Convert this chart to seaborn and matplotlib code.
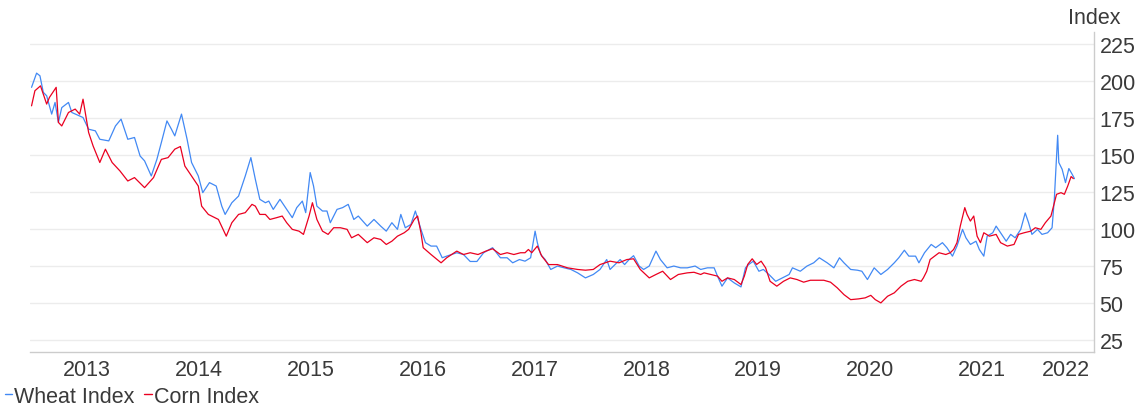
import matplotlib
matplotlib.use("Agg")
import matplotlib.pyplot as plt
from matplotlib.lines import Line2D
import seaborn as sns
import numpy as np
import pandas as pd

# years since 2013-01-01
wheat_t = [
    0.00, 0.045, 0.075, 0.105, 0.135, 0.18, 0.21, 0.24, 0.27, 0.33, 0.36, 0.46, 0.51, 0.57,
    0.61, 0.69, 0.75, 0.80, 0.86, 0.92, 0.97, 1.01, 1.07, 1.12, 1.16, 1.21, 1.25, 1.28,
    1.34, 1.39, 1.43, 1.49, 1.53, 1.59, 1.65, 1.70, 1.73, 1.79, 1.85, 1.91, 1.96, 2.00,
    2.04, 2.09, 2.12, 2.16, 2.22, 2.28, 2.33, 2.37, 2.42, 2.45, 2.49, 2.52, 2.55, 2.60,
    2.64, 2.67, 2.73, 2.78, 2.83, 2.88, 2.92, 3.00, 3.06, 3.12, 3.17, 3.22, 3.27, 3.30,
    3.34, 3.39, 3.43, 3.48, 3.52, 3.57, 3.62, 3.67, 3.71, 3.80, 3.86, 3.92, 3.98, 4.04,
    4.12, 4.19, 4.25, 4.30, 4.36, 4.41, 4.46, 4.50, 4.52, 4.55, 4.59, 4.64, 4.70, 4.76,
    4.82, 4.88, 4.95, 5.02, 5.08, 5.14, 5.17, 5.23, 5.26, 5.30, 5.34, 5.38, 5.43, 5.47,
    5.52, 5.58, 5.62, 5.68, 5.74, 5.80, 5.86, 5.93, 5.98, 6.04, 6.10, 6.13, 6.17, 6.22,
    6.28, 6.34, 6.38, 6.41, 6.45, 6.50, 6.54, 6.59, 6.65, 6.71, 6.77, 6.80, 6.87, 6.93,
    6.99, 7.04, 7.11, 7.17, 7.22, 7.26, 7.32, 7.38, 7.42, 7.47, 7.53, 7.59, 7.65, 7.71,
    7.75, 7.80, 7.84, 7.90, 7.93, 7.98, 8.04, 8.08, 8.14, 8.18, 8.23, 8.27, 8.32, 8.35,
    8.39, 8.44, 8.47, 8.51, 8.54, 8.59, 8.62, 8.66, 8.71, 8.75, 8.79, 8.84, 8.88, 8.91,
    8.94, 8.99, 9.03, 9.08, 9.12, 9.14, 9.17, 9.18, 9.21, 9.24, 9.27, 9.30, 9.32,
]
wheat_idx = [
    195.7, 205.3, 203.5, 192.3, 190.0, 177.6, 185.5, 172.0, 182.0, 185.5, 178.7, 175.3, 167.4, 166.3,
    160.6, 159.5, 169.6, 174.2, 160.6, 161.8, 149.3, 146.0, 135.8, 147.0, 158.4, 173.0, 167.4, 162.9,
    177.6, 160.6, 144.9, 135.8, 124.5, 131.3, 129.0, 115.4, 109.8, 117.7, 122.2, 135.8, 148.2, 133.5,
    120.0, 117.7, 118.8, 113.2, 120.0, 113.2, 107.6, 114.4, 118.8, 111.0, 138.1, 129.0, 115.4, 112.1,
    112.1, 104.2, 113.2, 114.4, 116.6, 106.4, 108.7, 101.9, 106.4, 101.9, 98.5, 104.2, 99.7, 109.8,
    100.8, 103.0, 112.1, 99.7, 90.7, 88.4, 88.4, 80.5, 81.6, 83.9, 82.7, 78.0, 78.0, 83.9,
    87.3, 80.5, 80.5, 77.1, 79.3, 78.2, 80.5, 98.5, 90.7, 82.7, 79.3, 72.6, 74.9, 73.7,
    72.6, 70.3, 66.9, 69.2, 72.6, 79.3, 72.6, 77.1, 79.3, 75.9, 79.3, 81.9, 74.9, 72.6,
    74.9, 85.0, 79.3, 73.7, 74.9, 73.7, 73.7, 74.9, 72.6, 73.7, 73.7, 68.1, 61.3, 66.9,
    63.5, 60.8, 73.7, 76.0, 78.2, 71.4, 72.6, 69.2, 64.6, 66.9, 69.2, 73.7, 71.4, 74.9,
    77.1, 80.5, 77.1, 73.7, 80.5, 77.1, 72.6, 72.1, 71.4, 65.8, 73.7, 69.2, 72.6, 77.1,
    80.5, 85.6, 81.6, 81.6, 77.1, 83.9, 89.5, 87.3, 90.7, 87.3, 81.6, 88.4, 99.7, 94.0,
    89.5, 91.7, 86.1, 81.6, 95.1, 97.4, 101.9, 97.4, 91.7, 96.3, 94.0, 99.7, 110.8, 104.2,
    96.3, 99.7, 96.3, 97.4, 100.8, 120.0, 163.3, 144.9, 140.3, 131.3, 140.8, 136.9, 134.0,
]

corn_t = [
    0.00, 0.03, 0.08, 0.105, 0.135, 0.16, 0.22, 0.24, 0.27, 0.33, 0.39, 0.43, 0.46, 0.51,
    0.55, 0.61, 0.66, 0.72, 0.79, 0.86, 0.92, 1.01, 1.09, 1.16, 1.22, 1.28, 1.33, 1.37,
    1.43, 1.49, 1.52, 1.58, 1.67, 1.74, 1.79, 1.85, 1.91, 1.97, 2.00, 2.04, 2.09, 2.13,
    2.19, 2.24, 2.28, 2.33, 2.39, 2.43, 2.48, 2.51, 2.55, 2.60, 2.65, 2.70, 2.76, 2.82,
    2.86, 2.92, 3.00, 3.06, 3.12, 3.17, 3.22, 3.27, 3.33, 3.37, 3.42, 3.45, 3.48, 3.50,
    3.57, 3.66, 3.71, 3.80, 3.86, 3.92, 3.99, 4.06, 4.12, 4.19, 4.25, 4.31, 4.37, 4.41,
    4.44, 4.47, 4.52, 4.56, 4.62, 4.70, 4.79, 4.88, 4.95, 5.02, 5.08, 5.17, 5.25, 5.32,
    5.38, 5.44, 5.52, 5.58, 5.64, 5.71, 5.78, 5.86, 5.92, 5.98, 6.01, 6.07, 6.13, 6.17,
    6.22, 6.28, 6.34, 6.37, 6.40, 6.44, 6.48, 6.52, 6.56, 6.60, 6.66, 6.72, 6.78, 6.84,
    6.90, 6.96, 7.02, 7.08, 7.14, 7.20, 7.26, 7.32, 7.39, 7.45, 7.50, 7.54, 7.59, 7.65,
    7.71, 7.77, 7.83, 7.89, 7.95, 7.97, 8.00, 8.03, 8.07, 8.11, 8.17, 8.21, 8.24, 8.27,
    8.30, 8.34, 8.36, 8.39, 8.42, 8.45, 8.48, 8.51, 8.56, 8.62, 8.66, 8.72, 8.78, 8.82,
    8.87, 8.93, 8.97, 9.02, 9.06, 9.11, 9.14, 9.16, 9.20, 9.23, 9.26, 9.29, 9.31,
]
corn_idx = [
    183.2, 193.4, 196.7, 191.1, 184.4, 188.9, 195.7, 172.0, 169.6, 178.7, 181.0, 177.6, 187.7, 165.2,
    156.1, 144.9, 153.9, 144.9, 139.2, 132.4, 134.7, 127.9, 134.7, 147.0, 148.2, 153.9, 155.7, 142.5,
    135.8, 129.0, 115.4, 109.8, 106.4, 95.1, 104.2, 109.8, 111.0, 116.6, 115.4, 109.8, 109.8, 106.4,
    107.6, 108.7, 104.2, 99.7, 98.5, 96.3, 108.7, 117.7, 106.4, 98.5, 96.3, 100.8, 100.8, 99.7,
    94.0, 96.3, 90.7, 94.0, 92.9, 89.5, 91.7, 95.1, 97.4, 99.7, 106.4, 108.7, 97.4, 87.3,
    82.7, 77.1, 80.5, 85.0, 82.7, 83.9, 82.7, 85.0, 86.6, 82.7, 83.9, 82.7, 83.9, 83.9,
    86.1, 83.9, 88.4, 81.6, 75.9, 75.9, 73.7, 72.6, 72.1, 72.6, 75.9, 78.2, 77.1, 79.3,
    79.8, 72.6, 66.9, 69.2, 71.4, 65.8, 69.2, 70.3, 70.7, 69.2, 70.3, 69.2, 68.1, 64.6,
    66.9, 65.8, 62.4, 68.1, 76.0, 79.8, 76.0, 78.2, 73.7, 64.6, 61.3, 64.6, 66.9, 65.8,
    64.0, 65.3, 65.3, 65.3, 64.0, 60.2, 55.6, 52.2, 52.7, 53.4, 55.1, 52.2, 50.0, 54.5,
    56.8, 61.3, 64.6, 65.8, 64.6, 66.9, 71.4, 79.3, 81.6, 83.9, 82.7, 83.9, 86.1, 90.7,
    102.0, 114.4, 109.8, 105.3, 108.7, 95.1, 90.7, 97.4, 95.1, 96.3, 90.7, 88.4, 89.5, 96.3,
    97.4, 98.5, 100.8, 99.7, 104.2, 108.7, 117.7, 123.4, 124.5, 123.4, 129.0, 135.4, 134.0,
]

series_names = ["Wheat Index", "Corn Index"]
series_colors = ["#4289f4", "#ea0020"]
year_labels = ["2013", "2014", "2015", "2016", "2017", "2018", "2019", "2020", "2021", "2022"]
y_ticks = [25, 50, 75, 100, 125, 150, 175, 200, 225]

start = pd.Timestamp("2013-01-01")


def to_dates(t):
    return start + pd.to_timedelta(np.array(t) * 365.25, unit="D")


df = pd.concat([
    pd.DataFrame({"date": to_dates(wheat_t), "value": wheat_idx, "series": series_names[0]}),
    pd.DataFrame({"date": to_dates(corn_t), "value": corn_idx, "series": series_names[1]}),
])

sns.set_style("white")
plt.rcParams["font.family"] = ["Liberation Sans", "DejaVu Sans"]
text_color = "#3a3a3a"

fig = plt.figure(figsize=(11.37, 4.10), dpi=100)
ax = fig.add_axes([0.0264, 0.139, 0.9358, 0.7805])

palette = dict(zip(series_names, series_colors))
sns.lineplot(data=df, x="date", y="value", hue="series", palette=palette,
             estimator=None, linewidth=0.9, legend=False, ax=ax)

ax.set_xlim(pd.Timestamp("2012-12-27"), pd.Timestamp("2022-07-01"))
ax.set_ylim(16.8, 233.1)

# y axis on the right
ax.yaxis.tick_right()
ax.set_yticks(y_ticks)
ax.tick_params(axis="y", length=0, pad=4, labelsize=15.5, labelcolor=text_color)
ax.grid(axis="y", color="#ececec", linewidth=1)
ax.grid(axis="x", visible=False)

# year labels mid-year, small ticks at year boundaries
label_pos = [pd.Timestamp(f"{y}-07-01") for y in year_labels[:-1]] + [pd.Timestamp(f"{year_labels[-1]}-04-01")]
ax.set_xticks(label_pos)
ax.set_xticklabels(year_labels)
ax.set_xticks([pd.Timestamp(f"{y}-01-01") for y in year_labels[1:]], minor=True)
ax.tick_params(axis="x", which="major", length=0, pad=5, labelsize=15.5, labelcolor=text_color)
ax.tick_params(axis="x", which="minor", length=4, width=1, color="#888888", direction="out")
ax.set_xlabel("")
ax.set_ylabel("")

for side in ["top", "left"]:
    ax.spines[side].set_visible(False)
for side in ["bottom", "right"]:
    ax.spines[side].set_color("#cccccc")
    ax.spines[side].set_linewidth(1)

fig.text(0.9626, 0.956, "Index", ha="center", va="center", fontsize=15.5, color=text_color)

handles = [Line2D([0], [0], color=c, lw=1) for c in series_colors]
fig.legend(handles, series_names, loc="lower left", bbox_to_anchor=(0.004, 0.006),
           ncol=2, frameon=False, fontsize=15.5, handlelength=0.35, handletextpad=0.1,
           columnspacing=0.45, borderpad=0.0, borderaxespad=0.0, labelcolor=text_color)

fig.savefig("out.png", dpi=100)
plt.close(fig)
